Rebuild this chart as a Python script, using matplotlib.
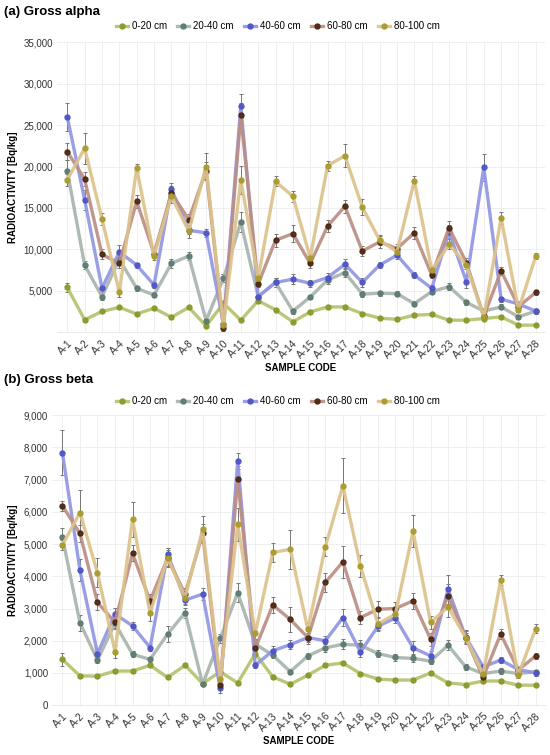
import matplotlib
matplotlib.use("Agg")
import matplotlib.pyplot as plt
import numpy as np

plt.rcParams['font.family'] = ['Liberation Sans', 'DejaVu Sans']

samples = [f"A-{i}" for i in range(1, 29)]
depths = ["0-20 cm", "20-40 cm", "40-60 cm", "60-80 cm", "80-100 cm"]

# ---- Gross alpha [Bq/kg] ----
alpha_0_20 = [5400, 1500, 2500, 3000, 2200, 2900, 1800, 3000, 750, 3500, 1450, 3800, 2700, 1250,
              2450, 3050, 3050, 2250, 1700, 1550, 2050, 2150, 1450, 1450, 1650, 1850, 850, 850]
alpha_20_40 = [19500, 8100, 4300, 8800, 5300, 4500, 8300, 9200, 1400, 6500, 13300, 4300, 6000, 2550,
               4250, 6300, 7200, 4600, 4700, 4650, 3450, 4900, 5500, 3600, 2550, 3050, 1850, 2550]
alpha_40_60 = [26000, 16000, 5300, 9700, 8100, 5700, 17300, 12300, 12000, 1000, 27300, 4300, 6000, 6400,
               5900, 6600, 8200, 6000, 8100, 9300, 6900, 5300, 12100, 6100, 19900, 4000, 3400, 2550]
alpha_60_80 = [21800, 18500, 9400, 8300, 15800, 9500, 16800, 13600, 19500, 500, 26200, 5800, 11100, 11900,
               8300, 12800, 15200, 9800, 10900, 10100, 12000, 6900, 12600, 8400, 1900, 7400, 3100, 4800]
alpha_80_100 = [18400, 22200, 13700, 4800, 19800, 9200, 16400, 12200, 20000, 850, 18400, 6500, 18200, 16400,
                9000, 20100, 21300, 15100, 11100, 9700, 18300, 7500, 10600, 8100, 1800, 13800, 2700, 9200]

alpha_err_0_20 = [500, 150, 200, 200, 150, 200, 150, 200, 100, 300, 150, 300, 200, 150,
                  200, 250, 250, 200, 150, 150, 200, 200, 150, 150, 150, 200, 100, 100]
alpha_err_20_40 = [1300, 500, 400, 600, 300, 300, 500, 500, 200, 500, 1200, 400, 500, 300,
                   300, 500, 500, 400, 300, 300, 300, 300, 400, 300, 300, 300, 200, 200]
alpha_err_40_60 = [1700, 1200, 500, 800, 300, 400, 700, 400, 500, 200, 1500, 400, 600, 600,
                   400, 600, 600, 500, 400, 500, 400, 400, 800, 800, 1600, 300, 300, 300]
alpha_err_60_80 = [1000, 900, 600, 500, 800, 500, 900, 700, 1000, 300, 1500, 400, 800, 1000,
                   500, 700, 800, 600, 700, 600, 700, 400, 800, 500, 300, 500, 300, 300]
alpha_err_80_100 = [700, 1900, 700, 500, 500, 500, 800, 800, 1600, 300, 1700, 500, 600, 700,
                    500, 600, 1400, 1000, 600, 500, 600, 500, 600, 500, 300, 700, 300, 400]

# ---- Gross beta [Bq/kg] ----
beta_0_20 = [1420, 910, 900, 1060, 1060, 1240, 860, 1240, 670, 1040, 690, 1600, 880, 650,
             930, 1240, 1310, 980, 810, 780, 780, 1000, 690, 640, 750, 750, 620, 620]
beta_20_40 = [5210, 2560, 1400, 2540, 1580, 1420, 2210, 2870, 650, 2070, 3490, 1900, 1550, 1040,
              1530, 1780, 1890, 1860, 1600, 1480, 1450, 1370, 1860, 1190, 980, 1060, 980, 1040]
beta_40_60 = [7840, 4190, 1600, 2830, 2460, 1790, 4690, 3260, 3450, 520, 7590, 1240, 1690, 1880,
              2100, 2000, 2720, 1650, 2450, 2710, 1780, 1530, 3600, 2120, 1190, 1400, 1110, 1000]
beta_60_80 = [6190, 5330, 3190, 2570, 4710, 3240, 4560, 3450, 5330, 620, 7010, 1760, 3110, 2660,
              2100, 3810, 4450, 2720, 2980, 3000, 3240, 2050, 3400, 2100, 860, 2210, 1090, 1530]
beta_80_100 = [4970, 5980, 4110, 1660, 5770, 2850, 4580, 3340, 5460, 800, 5610, 2230, 4740, 4840,
               2350, 4920, 6810, 4320, 2520, 2830, 5400, 2570, 3050, 2100, 960, 3880, 930, 2380]

beta_err_0_20 = [200, 60, 60, 70, 70, 60, 50, 70, 50, 60, 50, 80, 60, 50,
                 50, 60, 60, 50, 50, 50, 60, 60, 50, 60, 50, 50, 40, 40]
beta_err_20_40 = [300, 250, 100, 150, 100, 80, 250, 150, 60, 150, 300, 150, 100, 80,
                  100, 120, 150, 150, 100, 100, 100, 80, 150, 100, 80, 80, 60, 60]
beta_err_40_60 = [700, 350, 150, 200, 120, 100, 200, 150, 200, 150, 250, 100, 150, 150,
                  150, 150, 250, 150, 150, 150, 200, 150, 450, 200, 100, 100, 80, 80]
beta_err_60_80 = [150, 250, 250, 200, 250, 200, 250, 200, 300, 100, 400, 150, 250, 400,
                  200, 300, 500, 200, 250, 200, 250, 200, 350, 150, 100, 150, 80, 100]
beta_err_80_100 = [150, 700, 450, 200, 550, 250, 300, 200, 400, 200, 500, 200, 300, 600,
                   200, 300, 850, 350, 200, 200, 500, 200, 300, 200, 100, 150, 100, 150]

line_colors = ["#b4c36f", "#a8b4ad", "#9296e2", "#bb8e83", "#dcc38c"]
marker_colors = ["#8a9a2c", "#5c7a70", "#4e53c6", "#4a2612", "#a99b2c"]

alpha_series = [alpha_0_20, alpha_20_40, alpha_40_60, alpha_60_80, alpha_80_100]
alpha_errs = [alpha_err_0_20, alpha_err_20_40, alpha_err_40_60, alpha_err_60_80, alpha_err_80_100]
beta_series = [beta_0_20, beta_20_40, beta_40_60, beta_60_80, beta_80_100]
beta_errs = [beta_err_0_20, beta_err_20_40, beta_err_40_60, beta_err_60_80, beta_err_80_100]

fig = plt.figure(figsize=(5.5, 7.55), dpi=100)
ax_a = fig.add_axes([0.104, 0.560, 0.886, 0.384])
ax_b = fig.add_axes([0.095, 0.066, 0.895, 0.384])

x = np.arange(len(samples))


def draw(ax, series, errs, ymax, step, show_zero):
    handles = []
    for vals, err, lc, mc, lab in zip(series, errs, line_colors, marker_colors, depths):
        ax.errorbar(x, vals, yerr=err, fmt='none', ecolor='#777777', elinewidth=0.7,
                    capsize=1.5, capthick=0.7, zorder=2)
        h, = ax.plot(x, vals, '-', color=lc, lw=2.4, marker='o', markersize=3.6,
                     markerfacecolor=mc, markeredgecolor=mc, zorder=3, label=lab, alpha=0.92)
        handles.append(h)
    ax.set_xlim(-0.58, 27.5)
    ax.set_ylim(0, ymax)
    start = 0 if show_zero else step
    ax.set_yticks(np.arange(start, ymax + 1, step))
    ax.yaxis.set_major_formatter(matplotlib.ticker.FuncFormatter(lambda v, p: f"{int(v):,}"))
    ax.set_xticks(x)
    ax.set_xticklabels(samples, rotation=45, ha='right', rotation_mode='anchor')
    ax.tick_params(axis='both', labelsize=7, length=0, colors='#333333', pad=3)
    ax.tick_params(axis='x', pad=4, labelsize=7.3)
    ax.grid(True, color='#ececf0', lw=0.6)
    ax.set_axisbelow(True)
    for s in ['top', 'right', 'left']:
        ax.spines[s].set_visible(False)
    ax.spines['bottom'].set_color('#e6e6ea')
    ax.spines['bottom'].set_linewidth(0.6)
    ax.set_ylabel("RADIOACTIVITY [Bq/kg]", fontsize=7, fontweight='bold', labelpad=4)
    ax.set_xlabel("SAMPLE CODE", fontsize=7, fontweight='bold', labelpad=2)
    return handles


h_a = draw(ax_a, alpha_series, alpha_errs, 35000, 5000, False)
h_b = draw(ax_b, beta_series, beta_errs, 9000, 1000, True)

for ax, h, ly in [(ax_a, h_a, 0.965), (ax_b, h_b, 0.469)]:
    fig.legend(handles=h, labels=depths, loc='center', bbox_to_anchor=(0.505, ly), ncol=5,
               frameon=False, fontsize=7, handlelength=1.2, handletextpad=0.4,
               columnspacing=1.1, borderaxespad=0)

fig.text(0.008, 0.984, "(a) Gross alpha", fontsize=9.5, fontweight='bold', va='center', ha='left')
fig.text(0.008, 0.497, "(b) Gross beta", fontsize=9.5, fontweight='bold', va='center', ha='left')

fig.savefig("out.png", dpi=100)
